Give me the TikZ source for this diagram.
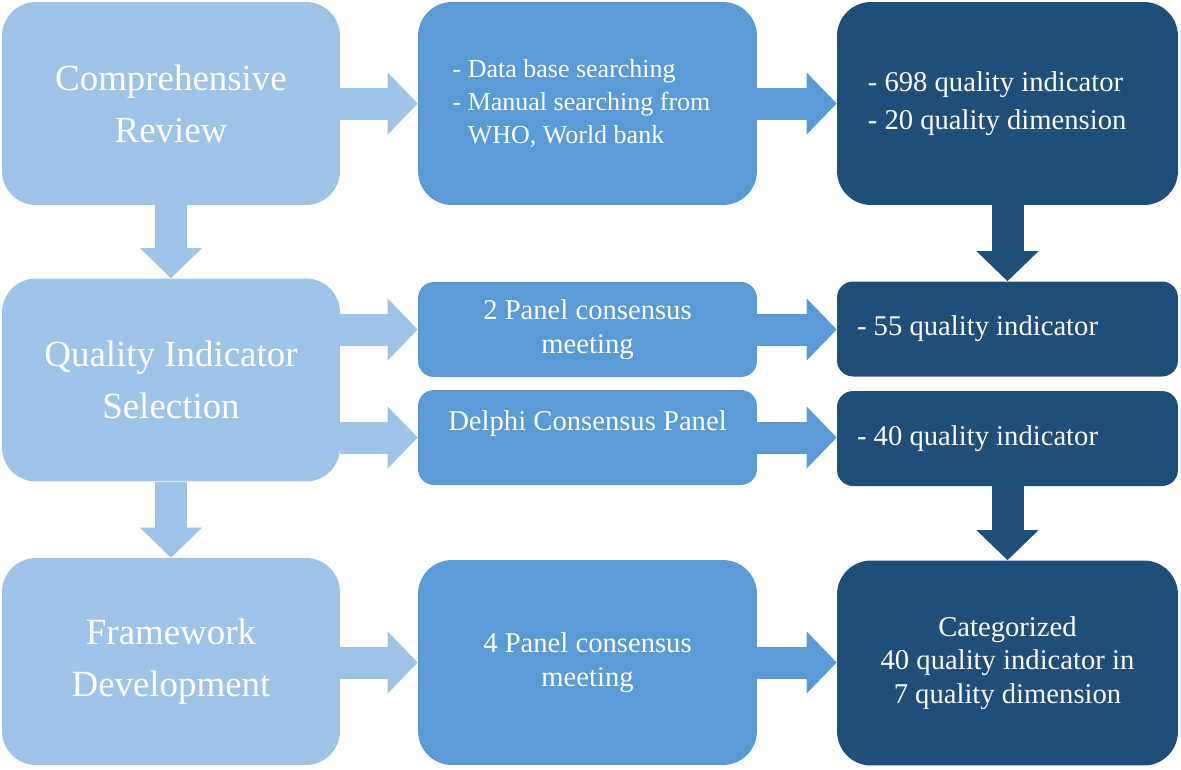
\documentclass[tikz,border=0pt]{standalone}
\usepackage{fontspec}
\setmainfont{Liberation Serif}
\usetikzlibrary{arrows.meta}

\definecolor{lightblue}{HTML}{9DC3E6}
\definecolor{midblue}{HTML}{5B9BD5}
\definecolor{darkblue}{HTML}{1F4E79}

\tikzset{
  box/.style={fill=#1,text=white,inner sep=0pt,align=center,
    font=\fontsize{16.3}{19}\selectfont},
  bigbox/.style={minimum height=4.06cm,rounded corners=0.68cm},
  smallbox/.style={minimum height=1.9cm,rounded corners=0.32cm},
  blockarrow/.style={draw=#1,line width=0.64cm,
    -{Triangle[length=0.6cm,width=1.24cm,line width=0pt]}}
}

\begin{document}
\begin{tikzpicture}[x=0.02cm,y=-0.02cm]
\useasboundingbox (0,0) rectangle (1181,769);

% left column
\node[box=lightblue,bigbox,minimum width=6.76cm,font=\fontsize{21}{29.5}\selectfont] (review) at (171,103.5) {Comprehensive\\Review};
\node[box=lightblue,bigbox,minimum width=6.76cm,font=\fontsize{21}{29.5}\selectfont] (select) at (171,380) {Quality Indicator\\Selection};
\node[box=lightblue,bigbox,minimum width=6.76cm,minimum height=4.14cm,font=\fontsize{21}{29.5}\selectfont] (frame) at (171,661.5) {Framework\\Development};

% middle column
\node[box=midblue,bigbox,minimum width=6.78cm,align=left,font=\fontsize{14.8}{19}\selectfont] (search) at (587.5,103.5) {- Data base searching\\- Manual searching from\hspace{0.24cm}\mbox{}\\\hphantom{- }WHO, World bank};
\node[box=midblue,smallbox,minimum width=6.78cm] (panel2) at (587.5,329.5) {2 Panel consensus\\meeting};
\node[box=midblue,smallbox,minimum width=6.78cm] (delphi) at (587.5,437.5) {Delphi Consensus Panel\\\mbox{}};
\node[box=midblue,bigbox,minimum width=6.78cm,minimum height=4.1cm] (panel4) at (587.5,662.5) {4 Panel consensus\\meeting};

% right column
\node[box=darkblue,bigbox,minimum width=6.82cm,align=left,font=\fontsize{16.3}{22}\selectfont] (qi698) at (1007.5,103.5) {- 698 quality indicator\hspace{0.48cm}\mbox{}\\- 20 quality dimension};
\node[box=darkblue,smallbox,minimum width=6.82cm] (qi55) at (1007.5,329) {- 55 quality indicator\hspace{1.2cm}\mbox{}};
\node[box=darkblue,smallbox,minimum width=6.82cm] (qi40) at (1007.5,438.5) {- 40 quality indicator\hspace{1.2cm}\mbox{}};
\node[box=darkblue,bigbox,minimum width=6.82cm,minimum height=4.1cm] (final) at (1007.5,663) {Categorized\\40 quality indicator in\\7 quality dimension};

% arrows
\draw[blockarrow=lightblue] (review) -- (search);
\draw[blockarrow=lightblue] (review) -- (select);
\draw[blockarrow=lightblue] (select) -- (frame);
\draw[blockarrow=lightblue] (select.east |- panel2.west) -- (panel2.west);
\draw[blockarrow=lightblue] (select.east |- delphi.west) -- (delphi.west);
\draw[blockarrow=lightblue] (frame.east |- panel4.west) -- (panel4.west);

\draw[blockarrow=midblue] (search) -- (qi698);
\draw[blockarrow=midblue] (panel2.east) -- (panel2.east -| qi55.west);
\draw[blockarrow=midblue] (delphi.east) -- (delphi.east -| qi40.west);
\draw[blockarrow=midblue] (panel4.east) -- (panel4.east -| final.west);

\draw[blockarrow=darkblue] (qi698) -- (qi55);
\draw[blockarrow=darkblue] (qi40) -- (final);

\end{tikzpicture}
\end{document}
